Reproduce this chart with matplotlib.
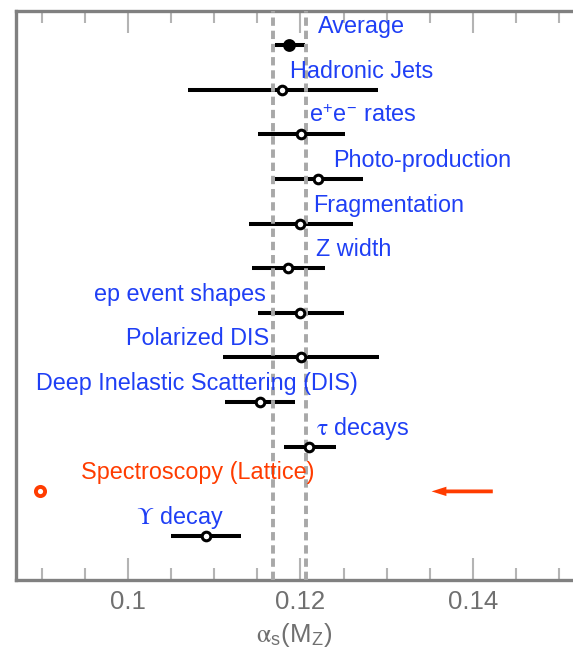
import numpy as np
import matplotlib
matplotlib.use("Agg")
import matplotlib.pyplot as plt
from matplotlib.ticker import MultipleLocator, FuncFormatter

plt.rcParams['font.family'] = ['Liberation Sans', 'DejaVu Sans']
plt.rcParams['mathtext.fontset'] = 'custom'
plt.rcParams['mathtext.rm'] = 'STIXGeneral'
plt.rcParams['mathtext.it'] = 'STIXGeneral:italic'
plt.rcParams['mathtext.sf'] = 'Liberation Sans'
plt.rcParams['lines.scale_dashes'] = False

# ---------------- data ----------------
labels = ["Average", "Hadronic Jets", r"e$^{\mathsf{+}}$e$^{\mathsf{-}}$ rates", "Photo-production",
          "Fragmentation", "Z width", "ep event shapes", "Polarized DIS",
          "Deep Inelastic Scattering (DIS)", r"$\mathrm{\tau}$ decays",
          "Spectroscopy (Lattice)", r"$\mathrm{\Upsilon}$ decay"]
values = [0.1187, 0.1179, 0.1201, 0.1220, 0.1200, 0.1186, 0.1200, 0.1201,
          0.1153, 0.1210, 0.0898, 0.1090]
err_low = [0.1170, 0.1070, 0.1151, 0.1170, 0.1140, 0.1144, 0.1151, 0.1110,
           0.1112, 0.1181, np.nan, 0.1050]
err_high = [0.1205, 0.1290, 0.1252, 0.1272, 0.1261, 0.1229, 0.1250, 0.1291,
            0.1194, 0.1241, np.nan, 0.1131]
label_x = [0.12203, 0.11878, 0.12099, 0.12377, 0.12145, 0.12180, 0.09606,
           0.09977, 0.08933, 0.12180, 0.09455, 0.10096]
band = [0.1168, 0.1207]
arrow_from = 0.1423
arrow_to = 0.1352

blue = '#1f3ff5'
red = '#ff3c00'
text_colors = [blue] * len(labels)
text_colors[10] = red

# ---------------- figure ----------------
fig = plt.figure(figsize=(5.73, 6.53), dpi=100)
ax = fig.add_axes([15.5 / 573, 73 / 653, 1 - 15.5 / 573, 569.5 / 653])

n = len(values)
ypos = np.arange(n)

# error bars
for i in range(n):
    if not np.isnan(err_low[i]):
        ax.plot([err_low[i], err_high[i]], [i, i], color='black', lw=2.9,
                solid_capstyle='butt', zorder=2)

# dashed average band
for b in band:
    ax.axvline(b, color='#a8a8a8', lw=2.8, dashes=(6.0, 3.5), zorder=3)

# markers
ax.plot(values[0], 0, 'o', color='black', ms=7.2, mew=2.0, zorder=4)
ax.plot(values[1:10], ypos[1:10], 'o', mfc='white', mec='black', ms=6.2, mew=2.2, zorder=4)
ax.plot(values[11], 11, 'o', mfc='white', mec='black', ms=6.2, mew=2.2, zorder=4)
ax.plot(values[10], 10, 'o', mfc='white', mec=red, ms=6.6, mew=2.8, zorder=4)

# arrow (exact geometry in data units)
ax.arrow(arrow_from, 10, arrow_to - arrow_from, 0, width=0.085, head_width=0.21,
         head_length=0.00172, length_includes_head=True, color=red, lw=0, zorder=4)

# labels
for i in range(n):
    ax.text(label_x[i], i - 0.27, labels[i], color=text_colors[i],
            fontsize=16.8, ha='left', va='baseline', zorder=5)

ax.set_xlim(0.08696, 0.1516)
ax.set_ylim(11.985, -0.773)
ax.set_yticks([])

ax.xaxis.set_major_locator(MultipleLocator(0.02))
ax.xaxis.set_minor_locator(MultipleLocator(0.005))
ax.xaxis.set_major_formatter(FuncFormatter(lambda v, p: f'{v:g}'))
ax.tick_params(axis='x', which='both', direction='in', top=True, bottom=True,
               color='#b4b4b4', width=1.5, labelcolor='#707070', labelsize=18.5, pad=7)
ax.tick_params(axis='x', which='major', length=16)
ax.tick_params(axis='x', which='minor', length=8.5)

for s in ['left', 'top', 'bottom']:
    ax.spines[s].set_color('#808080')
    ax.spines[s].set_linewidth(2.4)
ax.spines['right'].set_visible(False)

ax.set_xlabel(r'$\mathrm{\alpha}_{\mathsf{s}}$(M$_{\mathsf{Z}}$)', color='#707070',
              fontsize=18.5, labelpad=5)

fig.savefig('out.png', dpi=100)
